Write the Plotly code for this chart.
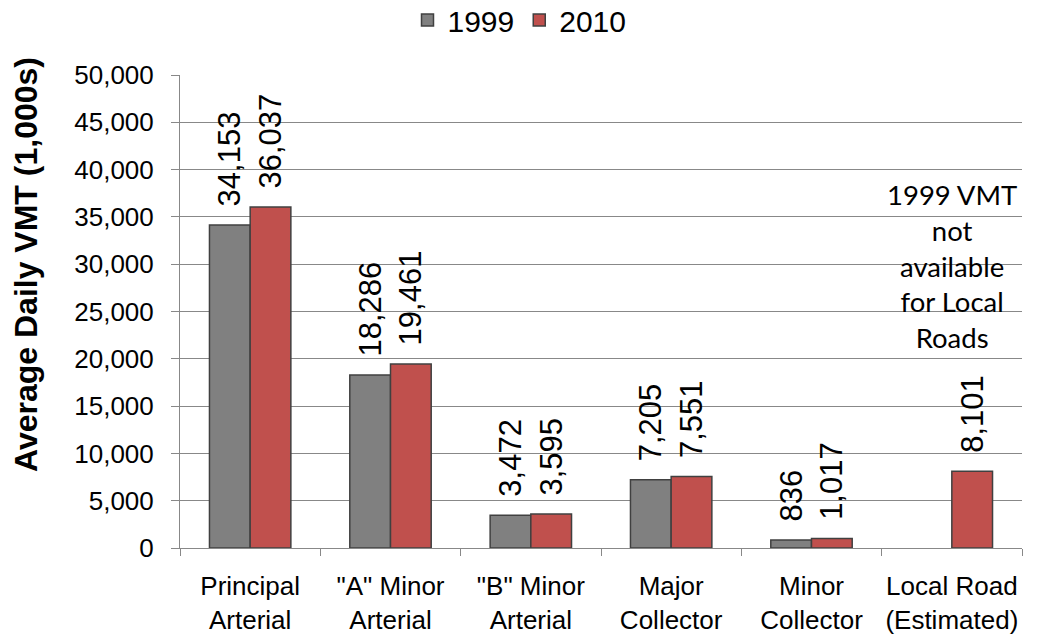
import plotly.graph_objects as go

categories = ["Principal<br>Arterial", "\"A\" Minor<br>Arterial", "\"B\" Minor<br>Arterial",
              "Major<br>Collector", "Minor<br>Collector", "Local Road<br>(Estimated)"]
vmt_1999 = [34153, 18286, 3472, 7205, 836, None]
vmt_2010 = [36037, 19461, 3595, 7551, 1017, 8101]
y_ticks = [0, 5000, 10000, 15000, 20000, 25000, 30000, 35000, 40000, 45000, 50000]
note_text = "1999 VMT<br>not<br>available<br>for Local<br>Roads"
y_title = "<b>Average Daily VMT (1,000s)</b>"

def fmt(v):
    # en-space prefix gives the gap between bar top and the rotated label
    return "" if v is None else "\u2002" + f"{v:,}"

label_font = dict(family="Arial", size=31, color="black")
fig = go.Figure()
fig.add_trace(go.Bar(x=categories, y=vmt_1999, name="1999",
                     marker=dict(color="#808080", line=dict(color="#404040", width=1.5)),
                     text=[fmt(v) for v in vmt_1999], textposition="outside", textangle=-90,
                     constraintext="none", textfont=label_font, cliponaxis=False))
fig.add_trace(go.Bar(x=categories, y=vmt_2010, name="2010",
                     marker=dict(color="#C0504D", line=dict(color="#404040", width=1.5)),
                     text=[fmt(v) for v in vmt_2010], textposition="outside", textangle=-90,
                     constraintext="none", textfont=label_font, cliponaxis=False))

fig.add_annotation(x=categories[5], y=39300, xref="x", yref="y", yanchor="top",
                   text=note_text, showarrow=False,
                   font=dict(family="Lato", size=27.5, color="black"), align="center")
fig.add_annotation(x=(26 - 180) / (1039 - 180 - 17), y=(548 - 265) / (548 - 75),
                   xref="paper", yref="paper", text=y_title, textangle=-90,
                   showarrow=False, font=dict(family="Arial", size=32, color="black"),
                   xanchor="center", yanchor="middle")

fig.update_layout(
    width=1039, height=635,
    margin=dict(l=180, r=17, t=75, b=87, autoexpand=False),
    paper_bgcolor="white", plot_bgcolor="white",
    barmode="group", bargap=0.42, bargroupgap=0,
    font=dict(family="Arial", color="black"),
    legend=dict(orientation="h", xref="container", yref="container",
                x=0.5, xanchor="center", y=1 - 20 / 635, yanchor="middle",
                font=dict(size=30), traceorder="normal", itemwidth=30),
    showlegend=True,
)
fig.update_yaxes(range=[0, 50000], tickvals=y_ticks, tickformat=",d",
                 showgrid=True, gridcolor="#888888", gridwidth=1,
                 showline=True, linecolor="#888888", linewidth=1,
                 ticks="outside", ticklen=8, tickcolor="#888888", automargin=False,
                 ticklabelstandoff=12, tickfont=dict(size=26), zeroline=False)
fig.update_xaxes(showline=True, linecolor="#888888", linewidth=1, tickangle=0,
                 ticks="outside", ticklen=7, tickcolor="#888888", tickson="boundaries",
                 automargin=False, ticklabelstandoff=15, tickfont=dict(size=26))

fig.write_html("out.html", config={"displayModeBar": False},
               post_script="document.body.style.margin='0';")
